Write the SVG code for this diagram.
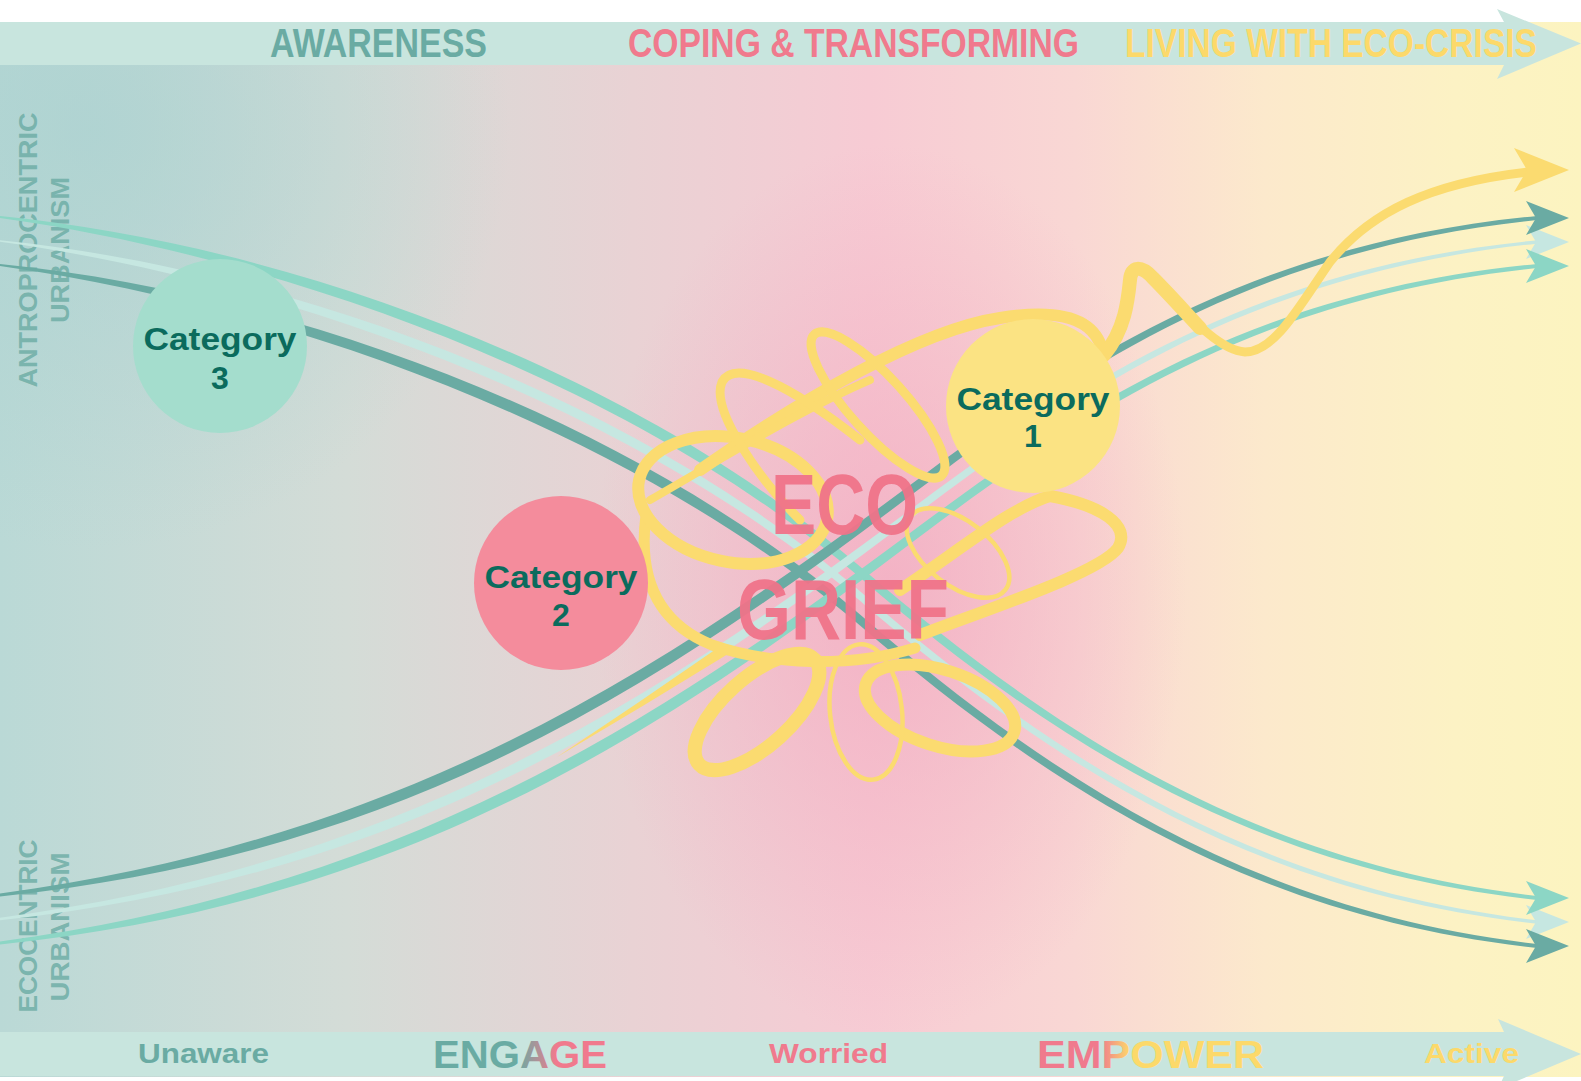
<svg xmlns="http://www.w3.org/2000/svg" width="1581" height="1081" viewBox="0 0 1581 1081">
  <defs>
    <style>
      .band { fill: #c8e5de; }
      .sans { font-family: "Liberation Sans", Arial, sans-serif; font-weight: 700; }
      .stage { font-size: 40px; }
      .step { font-size: 28px; }
      .big { font-size: 39px; }
      .axis { font-size: 26px; fill: #6aaba3; fill-opacity: 0.8; }
      .cat { font-size: 32px; fill: #0b6b5d; text-anchor: middle; }
      .dark { fill: #6aaba3; }
      .pale { fill: #c6e7e1; }
      .mint { fill: #8cd6c5; }
      .knot { fill: none; stroke: #fbdb70; stroke-linecap: round; stroke-linejoin: round; }
    </style>
    <linearGradient id="bgH" gradientUnits="userSpaceOnUse" x1="0" y1="0" x2="1581" y2="0">
      <stop offset="0" stop-color="#bad9d6"/>
      <stop offset="0.22" stop-color="#d4dcd7"/>
      <stop offset="0.4" stop-color="#e9d2d4"/>
      <stop offset="0.55" stop-color="#f7cbd4"/>
      <stop offset="0.68" stop-color="#f9d7d4"/>
      <stop offset="0.8" stop-color="#fce9cc"/>
      <stop offset="0.92" stop-color="#fcf2c4"/>
      <stop offset="1" stop-color="#fcf4c0"/>
    </linearGradient>
    <radialGradient id="pinkGlow" gradientUnits="userSpaceOnUse" cx="890" cy="590" r="330" gradientTransform="translate(890 590) scale(0.9 1.35) translate(-890 -590)">
      <stop offset="0" stop-color="#f2acc1" stop-opacity="0.8"/>
      <stop offset="1" stop-color="#f2acc1" stop-opacity="0"/>
    </radialGradient>
    <radialGradient id="tealGlow" gradientUnits="userSpaceOnUse" cx="90" cy="130" r="420">
      <stop offset="0" stop-color="#a9d1d0" stop-opacity="0.7"/>
      <stop offset="1" stop-color="#a9d1d0" stop-opacity="0"/>
    </radialGradient>
    <linearGradient id="gEngage" gradientUnits="userSpaceOnUse" x1="518" y1="0" x2="556" y2="0">
      <stop offset="0" stop-color="#6aaba3"/>
      <stop offset="1" stop-color="#f07a8d"/>
    </linearGradient>
    <linearGradient id="gEmpower" gradientUnits="userSpaceOnUse" x1="1100" y1="0" x2="1130" y2="0">
      <stop offset="0" stop-color="#f07a8d"/>
      <stop offset="1" stop-color="#fcd96a"/>
    </linearGradient>
    <path id="head" d="M0,0 L-43,-17 L-33,0 L-43,17 Z"/>
    <path id="bigHead" d="M0,0 L-55,-22 L-42,0 L-55,22 Z"/>
  </defs>

  <!-- canvas and tinted backdrop -->
  <rect x="0" y="0" width="1581" height="1081" fill="#ffffff"/>
  <rect x="0" y="22" width="1581" height="1055" fill="url(#bgH)"/>
  <rect x="0" y="22" width="1581" height="1055" fill="url(#pinkGlow)"/>
  <rect x="0" y="22" width="1581" height="1055" fill="url(#tealGlow)"/>

  <!-- top timeline band -->
  <g id="stages">
    <path class="band" d="M0,22 H1504 L1497,9 L1581,43.5 L1497,79 L1504,65 H0 Z"/>
    <text class="sans stage" x="270" y="57" textLength="217" lengthAdjust="spacingAndGlyphs" fill="#6aaba3">AWARENESS</text>
    <text class="sans stage" x="628" y="57" textLength="451" lengthAdjust="spacingAndGlyphs" fill="#f07a8d">COPING &amp; TRANSFORMING</text>
    <text class="sans stage" x="1125" y="57" textLength="412" lengthAdjust="spacingAndGlyphs" fill="#fcd96a">LIVING WITH ECO-CRISIS</text>
  </g>

  <!-- bottom timeline band -->
  <g id="steps">
    <path class="band" d="M0,1032 H1504 L1498,1019 L1581,1054 L1498,1089 L1504,1076 H0 Z"/>
    <text class="sans step" x="138" y="1063" textLength="131" lengthAdjust="spacingAndGlyphs" fill="#6aaba3">Unaware</text>
    <text class="sans big" x="433" y="1068" textLength="174" lengthAdjust="spacingAndGlyphs" fill="url(#gEngage)">ENGAGE</text>
    <text class="sans step" x="769" y="1063" textLength="119" lengthAdjust="spacingAndGlyphs" fill="#f07a8d">Worried</text>
    <text class="sans big" x="1037" y="1068" textLength="227" lengthAdjust="spacingAndGlyphs" fill="url(#gEmpower)">EMPOWER</text>
    <text class="sans step" x="1424" y="1063" textLength="95" lengthAdjust="spacingAndGlyphs" fill="#fcd96a">Active</text>
  </g>

  <!-- side axis labels -->
  <g id="axis-labels">
    <text class="sans axis" text-anchor="middle" transform="translate(37 250) rotate(-90)" textLength="275" lengthAdjust="spacingAndGlyphs">ANTROPROCENTRIC</text>
    <text class="sans axis" text-anchor="middle" transform="translate(69 250) rotate(-90)" textLength="146" lengthAdjust="spacingAndGlyphs">URBANISM</text>
    <text class="sans axis" text-anchor="middle" transform="translate(37 926) rotate(-90)" textLength="173" lengthAdjust="spacingAndGlyphs">ECOCENTRIC</text>
    <text class="sans axis" text-anchor="middle" transform="translate(69 927) rotate(-90)" textLength="149" lengthAdjust="spacingAndGlyphs">URBANISM</text>
  </g>

  <!-- tapered flow lines crossing the field -->
  <g id="connectors">
    <!-- descending bundle -->
    <path class="mint" d="M0,216 C300,246 640,376.5 860,566.5 C1060,739 1260,864.2 1537,896 L1537,900 C1260,869.8 1060,749 860,577.5 C640,389.5 300,260 0,218 Z"/>
    <path class="pale" d="M0,240.2 C300,271 640,401.5 860,591.3 C1060,763.8 1260,888.6 1537,920.3 L1537,923.7 C1260,893.4 1060,772.2 860,600.7 C640,412.5 300,283 0,241.8 Z"/>
    <path class="dark" d="M0,264 C300,294 640,424.5 860,614.5 C1060,787 1260,912.2 1537,944 L1537,948 C1260,917.8 1060,797 860,625.5 C640,437.5 300,308 0,266 Z"/>
    <!-- ascending bundle -->
    <path class="dark" d="M0,893.5 C400,839.5 650,678 900,492.5 C1050,381 1230,245 1537,216 L1537,220 C1230,251 1050,391 900,503.5 C650,692 400,854.5 0,896.5 Z"/>
    <path class="pale" d="M0,917.7 C400,864.6 650,703 900,517.3 C1050,405.8 1230,269.5 1537,240.3 L1537,243.7 C1230,274.6 1050,414.2 900,526.7 C650,715 400,877.4 0,920.3 Z"/>
    <path class="mint" d="M0,941.5 C400,887.5 650,726 900,540.5 C1050,429 1230,293 1537,264 L1537,268 C1230,299 1050,439 900,551.5 C650,740 400,902.5 0,944.5 Z"/>
    <!-- arrowheads -->
    <use href="#head" class="pale" transform="translate(1569 922)"/>
    <use href="#head" class="mint" transform="translate(1569 898)"/>
    <use href="#head" class="dark" transform="translate(1569 946)"/>
    <use href="#head" class="pale" transform="translate(1569 242)"/>
    <use href="#head" class="dark" transform="translate(1569 218)"/>
    <use href="#head" class="mint" transform="translate(1569 266)"/>
  </g>

  <!-- the tangled knot and its way out -->
  <g id="eco-grief">
    <path d="M557,757 Q640,702 722,645 L728,654 Q642,707 557,757 Z" fill="#fbdb70"/>
    <path class="knot" stroke-width="11" d="M646,515 C638,575 655,622 712,645 C770,665 850,668 915,648"/>
    <ellipse class="knot" stroke-width="12" cx="733" cy="500" rx="96" ry="62" transform="rotate(12 733 500)"/>
    <path class="knot" stroke-width="12" d="M700,470 C800,400 920,330 1000,318 C1060,308 1095,318 1103,352"/>
    <path class="knot" stroke-width="8" d="M650,500 C720,460 800,410 870,380"/>
    <path class="knot" stroke-width="9" d="M800,520 C760,480 710,410 722,382 C735,358 790,385 860,440"/>
    <ellipse class="knot" stroke-width="9" cx="878" cy="405" rx="95" ry="28" transform="rotate(48 878 405)"/>
    <path class="knot" stroke-width="12" d="M900,590 C960,550 1010,508 1050,496 C1100,505 1132,525 1118,548 C1100,572 1000,605 920,635"/>
    <ellipse class="knot" stroke-width="12" cx="940" cy="708" rx="78" ry="38" transform="rotate(18 940 708)"/>
    <ellipse class="knot" stroke-width="14" cx="757" cy="712" rx="78" ry="34" transform="rotate(-42 757 712)"/>
    <ellipse class="knot" stroke-width="4.5" cx="866" cy="712" rx="36" ry="68" transform="rotate(-6 866 712)"/>
    <ellipse class="knot" stroke-width="4.5" cx="958" cy="553" rx="60" ry="32" transform="rotate(38 958 553)"/>
    <path class="knot" stroke-width="9" d="M1104,355 C1125,330 1128,300 1130,280 C1131,266 1141,265 1153,278 C1180,305 1215,350 1245,352 C1275,352 1300,305 1330,262 C1370,212 1430,183 1528,172"/>
    <path class="knot" stroke-width="14" d="M1104,355 C1125,330 1128,300 1130,280 C1131,266 1141,265 1153,278 C1170,295 1185,312 1200,328"/>
    <use href="#bigHead" fill="#fbdb70" transform="translate(1569 170)"/>
    <text class="sans" font-size="85" fill="#ef7389" fill-opacity="0.95" x="771" y="534" textLength="147" lengthAdjust="spacingAndGlyphs">ECO</text>
    <text class="sans" font-size="85" fill="#ef7389" fill-opacity="0.95" x="737" y="639" textLength="212" lengthAdjust="spacingAndGlyphs">GRIEF</text>
  </g>

  <!-- categories -->
  <g id="category-3">
    <circle cx="220" cy="346" r="87" fill="#a4ddcd"/>
    <text class="sans cat" x="220" y="350" textLength="153" lengthAdjust="spacingAndGlyphs">Category</text>
    <text class="sans cat" x="220" y="389">3</text>
  </g>
  <g id="category-2">
    <circle cx="561" cy="583" r="87" fill="#f48c9c"/>
    <text class="sans cat" x="561" y="588" textLength="153" lengthAdjust="spacingAndGlyphs">Category</text>
    <text class="sans cat" x="561" y="626">2</text>
  </g>
  <g id="category-1">
    <circle cx="1033" cy="406" r="87" fill="#fbe383"/>
    <text class="sans cat" x="1033" y="410" textLength="153" lengthAdjust="spacingAndGlyphs">Category</text>
    <text class="sans cat" x="1033" y="447">1</text>
  </g>
</svg>
